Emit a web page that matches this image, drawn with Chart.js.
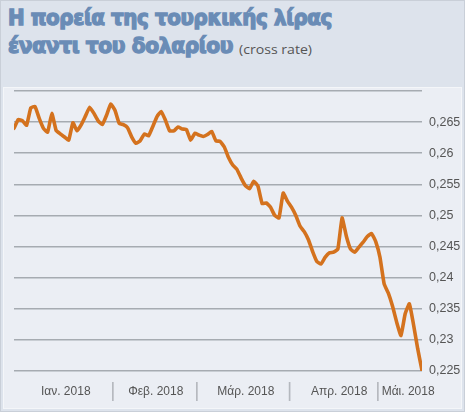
<!DOCTYPE html>
<html>
<head>
<meta charset="utf-8">
<script src="https://cdn.jsdelivr.net/npm/chart.js@4"></script>
<style>
  html, body { margin:0; padding:0; }
  body { width:465px; height:412px; position:relative; overflow:hidden; background:#dde3ec; }
  #frame { position:absolute; left:0; top:0; width:463px; height:410px; border:1px solid #c9cfd8; }
  #panel { position:absolute; left:3px; top:87px; width:457px; height:320px; background:#ebeef4; border:1px solid #f4f6f9; }
  .t { position:absolute; left:8px; white-space:nowrap; color:#6a8cb6; font-family:"DejaVu Sans","Liberation Sans",sans-serif; font-weight:bold; font-size:21px; line-height:24px; transform-origin:0 0; letter-spacing:-0.4px; -webkit-text-stroke:1.4px #6a8cb6; }
  #t1 { top:6px; }
  #t2 { top:34px; }
  #sub { position:absolute; left:239px; top:41px; font-family:"Open Sans","Liberation Sans",sans-serif; font-size:13.5px; line-height:17px; color:#555; white-space:nowrap; transform-origin:0 0; }
  canvas { position:absolute; left:0; top:0; }
</style>
</head>
<body>
<div id="frame"></div>
<div id="panel"></div>
<div class="t" id="t1">Η πορεία της τουρκικής λίρας</div>
<div class="t" id="t2">έναντι του δολαρίου</div>
<div id="sub">(cross rate)</div>
<canvas id="c" width="465" height="412"></canvas>
<script>
// Daily cross rate TRY/USD, early Jan 2018 to mid May 2018
const rates = [
  0.2640,0.2654,0.2652,0.2645,0.2673,0.2675,0.2656,0.2640,0.2634,0.2664,
  0.2637,0.2631,0.2626,0.2621,0.2649,0.2636,0.2646,0.2660,0.2674,0.2664,
  0.2652,0.2646,0.2661,0.2679,0.2669,0.2648,0.2646,0.2641,0.2626,0.2616,
  0.2620,0.2631,0.2628,0.2643,0.2659,0.2667,0.2653,0.2636,0.2636,0.2642,
  0.2639,0.2638,0.2621,0.2632,0.2629,0.2627,0.2630,0.2635,0.2620,0.2619,
  0.2610,0.2593,0.2581,0.2574,0.2560,0.2548,0.2543,0.2555,0.2547,0.2519,
  0.2520,0.2513,0.2500,0.2496,0.2536,0.2523,0.2513,0.2500,0.2483,0.2474,
  0.2461,0.2442,0.2426,0.2422,0.2433,0.2440,0.2441,0.2446,0.2496,0.2467,
  0.2446,0.2441,0.2449,0.2457,0.2466,0.2471,0.2458,0.2433,0.2390,0.2375,
  0.2354,0.2328,0.2307,0.2342,0.2358,0.2324,0.2285,0.2251
];
const monthLabels = ["Ιαν. 2018", "Φεβ. 2018", "Μάρ. 2018", "Απρ. 2018", "Μάι. 2018"];
const monthDays = [24, 20, 22, 21, 11];          // trading days per month in the series
const monthLabelDay = [12.3, 33.7, 55.1, 77.3, 93.7]; // day index where each month label sits
const yTicks = [0.225, 0.23, 0.235, 0.24, 0.245, 0.25, 0.255, 0.26, 0.265, 0.27];

// fit titles to the original widths
(function(){
  const t1 = document.getElementById('t1');
  const t2 = document.getElementById('t2');
  const sub = document.getElementById('sub');
  t1.style.transform = 'scaleX(' + (324 / t1.getBoundingClientRect().width) + ')';
  t2.style.transform = 'scaleX(' + (225 / t2.getBoundingClientRect().width) + ')';
  sub.style.transform = 'scaleX(' + (73 / sub.getBoundingClientRect().width) + ')';
})();

const points = rates.map((v, i) => ({ x: i, y: v }));

// x ticks: month labels + separators at month boundaries
const xTickDefs = [];
monthLabels.forEach((lab, i) => xTickDefs.push({ value: monthLabelDay[i], label: lab, sep: false }));
let acc = 0;
for (let i = 0; i < monthDays.length - 1; i++) {
  acc += monthDays[i];
  xTickDefs.push({ value: acc - 0.5, label: '|', sep: true });
}
xTickDefs.sort((a, b) => a.value - b.value);

const FONT = '"Liberation Sans",sans-serif';

new Chart(document.getElementById('c'), {
  type: 'line',
  data: {
    datasets: [{
      data: points,
      borderColor: '#d4721e',
      borderWidth: 3.6,
      pointRadius: 0,
      tension: 0.12,
      borderCapStyle: 'round',
      borderJoinStyle: 'round',
      fill: false
    }]
  },
  options: {
    responsive: false,
    animation: false,
    devicePixelRatio: 1,
    layout: { padding: { left: 14, top: 91, right: 0, bottom: 0 } },
    plugins: { legend: { display: false }, tooltip: { enabled: false } },
    scales: {
      x: {
        type: 'linear',
        min: 0,
        max: rates.length - 1,
        grid: { display: false, drawTicks: false },
        border: { display: false },
        afterBuildTicks: (scale) => { scale.ticks = xTickDefs.map(d => ({ value: d.value })); },
        afterFit: (scale) => { scale.height = 41; },
        ticks: {
          autoSkip: false,
          maxRotation: 0,
          padding: 13,
          callback: (value) => {
            const d = xTickDefs.find(t => Math.abs(t.value - value) < 1e-6);
            return d ? d.label : '';
          },
          color: (ctx) => {
            const d = xTickDefs[ctx.index];
            return d && d.sep ? '#b4b8be' : '#555555';
          },
          font: (ctx) => {
            const d = xTickDefs[ctx.index];
            return d && d.sep ? { family: FONT, size: 20, lineHeight: 0.72 } : { family: FONT, size: 12, lineHeight: 1.2 };
          }
        }
      },
      y: {
        position: 'right',
        min: 0.225,
        max: 0.27,
        afterBuildTicks: (scale) => { scale.ticks = yTicks.map(v => ({ value: v })); },
        afterFit: (scale) => { scale.width = 43; },
        grid: { color: '#a6abb1', lineWidth: 1.5, drawTicks: false },
        border: { display: false },
        ticks: {
          padding: 7,
          color: '#555555',
          font: { family: FONT, size: 12.5 },
          callback: (value) => value >= 0.2699 ? '' : Number(value.toFixed(3)).toString().replace('.', ',')
        }
      }
    }
  }
});
</script>
</body>
</html>
